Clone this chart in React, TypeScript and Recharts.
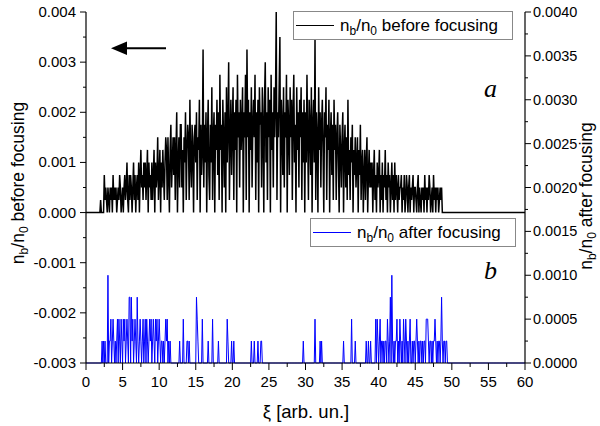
import { ComposedChart, Line, XAxis, YAxis } from 'recharts';

// one macro-particle step of n_b/n_0
const UNIT = 0.00025;
// samples start at xi = 2.0, spaced 0.1
const FIRST_INDEX = 20;

// n_b/n_0 before focusing, in UNIT counts, one row per unit of xi (2.0 .. 48.6)
const beforeCounts = [
  1, 0, 0, 0, 0, 3, 1, 2, 1, 0,
  2, 1, 0, 2, 1, 2, 0, 3, 1, 2,
  1, 2, 0, 1, 2, 1, 3, 2, 0, 1,
  2, 0, 2, 3, 1, 2, 4, 1, 0, 3,
  1, 3, 2, 0, 2, 4, 1, 3, 0, 2,
  3, 1, 4, 0, 3, 5, 2, 3, 1, 4,
  2, 4, 1, 3, 5, 0, 4, 2, 3, 1,
  4, 1, 3, 5, 0, 4, 2, 3, 6, 1,
  3, 5, 0, 4, 2, 5, 3, 1, 4, 6,
  5, 1, 6, 3, 0, 5, 7, 2, 4, 6,
  3, 6, 1, 5, 8, 0, 4, 6, 2, 7,
  7, 2, 5, 0, 6, 4, 8, 1, 5, 7,
  6, 1, 9, 4, 2, 7, 5, 0, 6, 7,
  4, 8, 1, 6, 5, 9, 0, 7, 3, 5,
  13, 2, 7, 4, 8, 0, 6, 9, 3, 1,
  7, 4, 10, 1, 6, 8, 0, 7, 5, 9,
  3, 8, 1, 11, 5, 7, 0, 9, 6, 2,
  8, 0, 10, 4, 7, 12, 1, 6, 9, 3,
  7, 10, 1, 8, 5, 9, 0, 11, 6, 8,
  2, 9, 5, 7, 10, 0, 8, 6, 11, 1,
  13, 6, 9, 0, 8, 5, 10, 2, 7, 9,
  6, 11, 1, 8, 4, 9, 0, 10, 7, 8,
  2, 10, 7, 0, 9, 12, 4, 8, 1, 10,
  6, 9, 0, 11, 5, 8, 2, 10, 6, 9,
  16, 1, 8, 6, 10, 14, 0, 9, 7, 3,
  10, 2, 8, 6, 11, 0, 9, 7, 3, 10,
  6, 9, 1, 8, 11, 4, 7, 0, 10, 5,
  8, 2, 9, 6, 10, 1, 8, 4, 9, 0,
  8, 4, 11, 6, 1, 9, 7, 3, 10, 0,
  7, 9, 4, 14, 1, 8, 6, 0, 10, 5,
  8, 2, 7, 9, 5, 0, 8, 6, 10, 1,
  7, 5, 9, 0, 6, 8, 3, 7, 1, 9,
  5, 7, 1, 6, 8, 4, 0, 7, 5, 2,
  6, 8, 0, 5, 7, 2, 6, 1, 9, 3,
  5, 1, 6, 4, 7, 0, 5, 3, 6, 2,
  4, 6, 0, 5, 3, 7, 1, 4, 5, 0,
  3, 5, 1, 4, 6, 0, 3, 5, 2, 4,
  2, 4, 0, 3, 5, 1, 3, 0, 4, 2,
  3, 5, 0, 3, 1, 4, 0, 3, 2, 5,
  1, 3, 0, 4, 2, 3, 0, 2, 4, 1,
  3, 0, 4, 1, 3, 2, 0, 3, 1, 2,
  2, 3, 0, 2, 1, 3, 0, 1, 3, 2,
  0, 2, 3, 0, 2, 1, 2, 3, 0, 2,
  2, 1, 0, 2, 3, 0, 2, 1, 0, 2,
  1, 2, 0, 3, 1, 2, 0, 2, 1, 3,
  2, 0, 1, 2, 0, 3, 1, 2, 0, 2,
  1, 2, 0, 1, 2, 1, 2,
];

// n_b/n_0 after focusing, in UNIT counts, one row per unit of xi (2.0 .. 49.9)
const afterCounts = [
  0, 0, 1, 0, 1, 0, 1, 0, 0, 0,
  4, 0, 1, 1, 2, 0, 1, 2, 1, 0,
  1, 0, 1, 2, 0, 2, 1, 0, 2, 1,
  0, 2, 1, 2, 0, 1, 2, 1, 0, 3,
  3, 0, 3, 1, 2, 0, 1, 2, 1, 0,
  3, 1, 0, 1, 2, 1, 0, 1, 2, 0,
  1, 2, 0, 2, 1, 0, 1, 2, 1, 2,
  0, 1, 2, 1, 0, 2, 1, 2, 0, 1,
  2, 1, 0, 1, 1, 0, 1, 0, 1, 2,
  1, 2, 0, 1, 0, 1, 0, 0, 0, 0,
  0, 0, 0, 0, 0, 0, 0, 0, 1, 0,
  0, 0, 0, 2, 0, 0, 0, 0, 1, 1,
  0, 1, 0, 0, 0, 0, 0, 0, 0, 0,
  0, 3, 2, 1, 0, 0, 0, 0, 0, 2,
  0, 0, 0, 0, 0, 0, 0, 1, 0, 0,
  0, 0, 0, 2, 0, 0, 0, 0, 0, 0,
  0, 1, 0, 0, 0, 0, 0, 0, 0, 0,
  0, 0, 0, 2, 1, 0, 0, 0, 0, 1,
  0, 0, 1, 0, 0, 0, 0, 0, 0, 0,
  0, 0, 0, 0, 0, 0, 0, 0, 0, 0,
  0, 0, 0, 0, 0, 0, 1, 0, 0, 0,
  1, 0, 0, 0, 0, 1, 0, 0, 0, 1,
  1, 0, 0, 0, 0, 0, 0, 0, 0, 0,
  0, 0, 0, 0, 0, 0, 0, 0, 0, 0,
  0, 0, 0, 0, 0, 0, 0, 0, 0, 0,
  0, 0, 0, 0, 0, 0, 0, 0, 0, 0,
  0, 0, 0, 0, 0, 0, 0, 0, 0, 0,
  0, 0, 0, 0, 0, 0, 0, 1, 0, 0,
  0, 0, 0, 0, 0, 0, 0, 0, 0, 0,
  0, 0, 0, 2, 0, 0, 0, 0, 0, 0,
  1, 0, 1, 0, 0, 0, 0, 0, 0, 0,
  0, 0, 0, 0, 0, 0, 0, 0, 0, 0,
  0, 0, 0, 0, 0, 0, 0, 0, 0, 0,
  0, 0, 1, 0, 0, 0, 0, 0, 0, 0,
  0, 0, 0, 2, 0, 0, 0, 0, 1, 0,
  0, 0, 0, 0, 0, 0, 0, 0, 0, 0,
  0, 0, 0, 1, 0, 0, 1, 0, 0, 1,
  0, 0, 0, 0, 0, 0, 2, 0, 2, 1,
  0, 1, 2, 0, 1, 1, 0, 1, 0, 1,
  1, 0, 2, 1, 0, 1, 3, 0, 4, 1,
  0, 1, 0, 1, 1, 2, 0, 1, 0, 2,
  1, 0, 1, 0, 2, 1, 0, 2, 1, 0,
  1, 0, 1, 2, 0, 0, 1, 0, 1, 1,
  0, 1, 2, 1, 0, 1, 0, 1, 1, 0,
  1, 0, 1, 1, 0, 2, 2, 2, 1, 0,
  1, 1, 0, 1, 0, 1, 1, 2, 1, 0,
  1, 0, 1, 1, 0, 1, 3, 1, 0, 1,
  1, 0, 1, 1, 0, 0, 0, 0, 0, 0,
];

const xTicks = [
  0, 2.5, 5, 7.5, 10, 12.5, 15, 17.5, 20, 22.5, 25, 27.5, 30,
  32.5, 35, 37.5, 40, 42.5, 45, 47.5, 50, 52.5, 55, 57.5, 60,
];
const leftTicks = [
  -0.003, -0.0025, -0.002, -0.0015, -0.001, -0.0005, 0,
  0.0005, 0.001, 0.0015, 0.002, 0.0025, 0.003, 0.0035, 0.004,
];
const rightTicks = [
  0, 0.00025, 0.0005, 0.00075, 0.001, 0.00125, 0.0015, 0.00175, 0.002,
  0.00225, 0.0025, 0.00275, 0.003, 0.00325, 0.0035, 0.00375, 0.004,
];

const data = Array.from({ length: 601 }, (_, i) => {
  const k = i - FIRST_INDEX;
  return {
    xi: i / 10,
    before: (beforeCounts[k] ?? 0) * UNIT,
    after: (afterCounts[k] ?? 0) * UNIT,
  };
});

const FONT = '"Liberation Sans", Arial, sans-serif';
const SERIF = '"Liberation Serif", "Times New Roman", serif';

function XTick({ x, y, payload }: any) {
  const major = Math.round(payload.value / 2.5) % 2 === 0;
  return (
    <g>
      <line x1={x} x2={x} y1={y} y2={y + (major ? 7 : 4)} stroke="#000" />
      {major && (
        <text x={x} y={y + 24} textAnchor="middle" fontSize={15} fontFamily={FONT} fill="#000">
          {payload.value}
        </text>
      )}
    </g>
  );
}

function LeftTick({ x, y, payload }: any) {
  const major = Math.round(Math.abs(payload.value) / 0.0005) % 2 === 0;
  return (
    <g>
      <line x1={x - (major ? 6 : 3)} x2={x} y1={y} y2={y} stroke="#000" />
      {major && (
        <text x={x - 10} y={y + 5} textAnchor="end" fontSize={15} fontFamily={FONT} fill="#000">
          {payload.value.toFixed(3)}
        </text>
      )}
    </g>
  );
}

function RightTick({ x, y, payload }: any) {
  const major = Math.round(payload.value / UNIT) % 2 === 0;
  return (
    <g>
      <line x1={x} x2={x + (major ? 6 : 3)} y1={y} y2={y} stroke="#000" />
      {major && (
        <text x={x + 8} y={y + 5} textAnchor="start" fontSize={14.5} fontFamily={FONT} fill="#000">
          {payload.value.toFixed(4)}
        </text>
      )}
    </g>
  );
}

function Ratio({ tail }: { tail: string }) {
  return (
    <>
      n<tspan dy={4} fontSize={12}>b</tspan>
      <tspan dy={-4}>/n</tspan>
      <tspan dy={4} fontSize={12}>0</tspan>
      <tspan dy={-4}>{tail}</tspan>
    </>
  );
}

export default function App() {
  return (
    <div style={{ position: 'absolute', left: 0, top: 0, width: 600, height: 426, background: '#fff' }}>
      <ComposedChart
        width={600}
        height={426}
        data={data}
        margin={{ top: 12, right: 0, bottom: 33, left: 0 }}
      >
        <XAxis
          dataKey="xi"
          type="number"
          domain={[0, 60]}
          ticks={xTicks}
          interval={0}
          tickSize={0}
          tickMargin={0}
          tick={(p: any) => <XTick {...p} />}
          axisLine={{ stroke: '#000', strokeWidth: 1.2 }}
          height={30}
        />
        <YAxis
          yAxisId="L"
          orientation="left"
          width={86}
          domain={[-0.003, 0.004]}
          ticks={leftTicks}
          interval={0}
          tickSize={0}
          tickMargin={0}
          tick={(p: any) => <LeftTick {...p} />}
          axisLine={{ stroke: '#000', strokeWidth: 1.2 }}
        />
        <YAxis
          yAxisId="R"
          orientation="right"
          width={75}
          domain={[0, 0.004]}
          ticks={rightTicks}
          interval={0}
          tickSize={0}
          tickMargin={0}
          tick={(p: any) => <RightTick {...p} />}
          axisLine={{ stroke: '#000', strokeWidth: 1.2 }}
        />
        <Line
          yAxisId="L"
          type="linear"
          dataKey="before"
          stroke="#000"
          strokeWidth={1.5}
          dot={false}
          isAnimationActive={false}
        />
        <Line
          yAxisId="R"
          type="linear"
          dataKey="after"
          stroke="#0000ff"
          strokeWidth={1}
          dot={false}
          isAnimationActive={false}
        />
      </ComposedChart>
      <svg
        width={600}
        height={426}
        style={{ position: 'absolute', left: 0, top: 0, pointerEvents: 'none' }}
        fontFamily={FONT}
      >
        {/* legends */}
        <rect x={293.5} y={11.5} width={219} height={28} fill="#fff" stroke="#888" />
        <line x1={296} x2={334} y1={25.5} y2={25.5} stroke="#000" />
        <text x={340} y={31} fontSize={17} fill="#000">
          <Ratio tail=" before focusing" />
        </text>
        <rect x={310.5} y={218.5} width={205} height={28} fill="#fff" stroke="#888" />
        <line x1={313} x2={351} y1={232.5} y2={232.5} stroke="#0000ff" />
        <text x={357} y={238} fontSize={17} fill="#000">
          <Ratio tail=" after focusing" />
        </text>

        {/* panel letters */}
        <text x={484} y={97} fontSize={26} fontStyle="italic" fontFamily={SERIF}>
          a
        </text>
        <text x={484} y={279} fontSize={26} fontStyle="italic" fontFamily={SERIF}>
          b
        </text>

        {/* arrow */}
        <line x1={124} x2={166} y1={48.3} y2={48.3} stroke="#000" strokeWidth={2} />
        <polygon points="111,48.3 127,41.5 127,55.1" fill="#000" />

        {/* axis titles */}
        <text x={24} y={183} fontSize={17.5} textAnchor="middle" transform="rotate(-90 24 183)">
          <Ratio tail=" before focusing" />
        </text>
        <text x={592} y={196} fontSize={17.5} textAnchor="middle" transform="rotate(-90 592 196)">
          <Ratio tail=" after focusing" />
        </text>
        <text x={306} y={418} fontSize={18.5} textAnchor="middle">
          ξ [arb. un.]
        </text>
      </svg>
    </div>
  );
}
